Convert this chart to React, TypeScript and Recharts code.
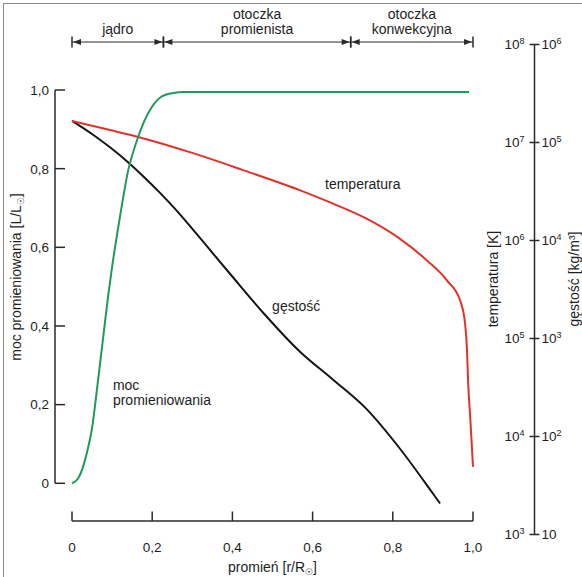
import React from 'react';
import { ComposedChart, Line, XAxis, YAxis, ReferenceLine, ReferenceDot } from 'recharts';

// ---- data ----
const lumR = [0, 0.015, 0.03, 0.04, 0.05, 0.06, 0.07, 0.08, 0.09, 0.1, 0.12, 0.14, 0.16, 0.18, 0.2, 0.22, 0.25, 0.28, 0.35, 0.99];
const lumL = [0, 0.012, 0.05, 0.09, 0.14, 0.22, 0.305, 0.39, 0.475, 0.55, 0.68, 0.795, 0.866, 0.92, 0.958, 0.981, 0.992, 0.995, 0.995, 0.995];

const tempR = [0, 0.095, 0.165, 0.3, 0.425, 0.569, 0.651, 0.736, 0.818, 0.885, 0.935, 0.968, 0.98, 0.985, 0.988, 0.993, 1.0];
const tempK = [1.66e7, 1.34e7, 1.14e7, 7.83e6, 5.26e6, 3.25e6, 2.38e6, 1.66e6, 1.04e6, 6.26e5, 3.92e5, 2.44e5, 1.45e5, 7.7e4, 3.5e4, 1.6e4, 4.9e3];

const rhoR = [0, 0.0524, 0.0948, 0.1446, 0.182, 0.2195, 0.2594, 0.3017, 0.394, 0.479, 0.5686, 0.651, 0.736, 0.818, 0.9, 0.918];
const rhoKg = [1.66e5, 1.2e5, 8.93e4, 6.05e4, 4.35e4, 3.06e4, 2.05e4, 1.29e4, 4.58e3, 1.79e3, 733, 380, 188, 75, 26.2, 20.7];

const xTicks = [0, 0.2, 0.4, 0.6, 0.8, 1.0];
const lumTicks = [0, 0.2, 0.4, 0.6, 0.8, 1.0];
const tempTicks = [1e3, 1e4, 1e5, 1e6, 1e7, 1e8];
const rhoTicks = [10, 1e2, 1e3, 1e4, 1e5, 1e6];

const zoneEdges = [0, 0.228, 0.695, 1.0];
const zoneLabels = [['jądro'], ['otoczka', 'promienista'], ['otoczka', 'konwekcyjna']];

// ---- layout / style ----
const W = 582;
const H = 577;
const FONT = '"Liberation Sans", Arial, Helvetica, sans-serif';
const AXIS = '#2a2a2a';
const TXT = '#1e1e1e';
const GREEN = '#1e9a5a';
const RED = '#e2322b';
const BLACK = '#151515';
const TICK_FS = 13.5;
const LBL_FS = 14;

const X_DOMAIN: [number, number] = [-0.0424, 1.1509];
const L_DOMAIN: [number, number] = [-0.1302, 1.1157];
const XLINE_L = -0.0959; // level of the bottom radius axis (in left-axis units)
const ZONE_L = 1.122; // level of the zone arrows

const lumData = lumR.map((r, i) => ({ r, L: lumL[i] }));
const tempData = tempR.map((r, i) => ({ r, T: tempK[i] }));
const rhoData = rhoR.map((r, i) => ({ r, rho: rhoKg[i] }));

const fmtDec = (v: number) => (v === 0 ? '0' : v.toFixed(1).replace('.', ','));
const expOf = (v: number) => Math.round(Math.log10(v));

const txt = { fontFamily: FONT, fill: TXT };

const LeftTick = (p: any) => (
  <g>
    <line x1={p.x} y1={p.y} x2={p.x + 10} y2={p.y} stroke={AXIS} strokeWidth={1.5} />
    <text x={p.x - 6} y={p.y} dy="0.36em" textAnchor="end" fontSize={TICK_FS} {...txt}>
      {fmtDec(p.payload.value)}
    </text>
  </g>
);

const XTick = (p: any) => (
  <g>
    <line x1={p.x} y1={p.y - 13.5} x2={p.x} y2={p.y - 23} stroke={AXIS} strokeWidth={1.5} />
    <text x={p.x} y={p.y + 12.5} dy="0.36em" textAnchor="middle" fontSize={TICK_FS} {...txt}>
      {fmtDec(p.payload.value)}
    </text>
  </g>
);

const TempTick = (p: any) => (
  <g>
    <line x1={p.x - 5} y1={p.y} x2={p.x + 5} y2={p.y} stroke={AXIS} strokeWidth={1.5} />
    <text x={p.x - 10} y={p.y} dy="0.36em" textAnchor="end" fontSize={TICK_FS} {...txt}>
      10<tspan dy={-5} fontSize={9}>{expOf(p.payload.value)}</tspan>
    </text>
  </g>
);

const RhoTick = (p: any) => {
  const e = expOf(p.payload.value);
  return (
    <text x={p.x + 8} y={p.y} dy="0.36em" textAnchor="start" fontSize={TICK_FS} {...txt}>
      10{e > 1 ? <tspan dy={-5} fontSize={9}>{e}</tspan> : null}
    </text>
  );
};

const zoneShape = (labels: string[]) => (p: any) => {
  const { x1, x2, y1 } = p;
  const y = y1;
  const a = 8;
  const h = 3;
  const cx = (x1 + x2) / 2;
  return (
    <g>
      <line x1={x1} y1={y} x2={x2} y2={y} stroke={AXIS} strokeWidth={1} />
      <line x1={x1} y1={y - 5.5} x2={x1} y2={y + 5.5} stroke={AXIS} strokeWidth={1.5} />
      <line x1={x2} y1={y - 5.5} x2={x2} y2={y + 5.5} stroke={AXIS} strokeWidth={1.5} />
      <polygon points={`${x1 + 1},${y} ${x1 + 1 + a},${y - h} ${x1 + 1 + a},${y + h}`} fill={AXIS} />
      <polygon points={`${x2 - 1},${y} ${x2 - 1 - a},${y - h} ${x2 - 1 - a},${y + h}`} fill={AXIS} />
      {labels.map((t, i) => (
        <text key={t} x={cx} y={y - 8 - (labels.length - 1 - i) * 15} textAnchor="middle" fontSize={LBL_FS} {...txt}>
          {t}
        </text>
      ))}
    </g>
  );
};

type FreeText = { r: number; L: number; lines: React.ReactNode[]; anchor: 'start' | 'middle'; rotate?: boolean };

const freeTexts: FreeText[] = [
  { r: -0.1397, L: 0.5245, anchor: 'middle', rotate: true, lines: [<>moc promieniowania [L/L<tspan dy={3} fontSize={9}>☉</tspan><tspan dy={-3}>]</tspan></>] },
  { r: 0.5, L: -0.2128, anchor: 'middle', lines: [<>promień [r/R<tspan dy={3} fontSize={9}>☉</tspan><tspan dy={-3}>]</tspan></>] },
  { r: 1.0499, L: 0.5194, anchor: 'middle', rotate: true, lines: ['temperatura [K]'] },
  { r: 1.2519, L: 0.5194, anchor: 'middle', rotate: true, lines: ['gęstość [kg/m³]'] },
];

const curveTexts = [
  { r: 0.631, L: 0.748, text: 'temperatura' },
  { r: 0.499, L: 0.438, text: 'gęstość' },
  { r: 0.102, L: 0.237, text: 'moc' },
  { r: 0.102, L: 0.199, text: 'promieniowania' },
];

const freeShape = (f: FreeText) => (p: any) => (
  <text
    x={p.cx}
    y={p.cy}
    dy="0.36em"
    textAnchor={f.anchor}
    fontSize={LBL_FS}
    transform={f.rotate ? `rotate(-90, ${p.cx}, ${p.cy})` : undefined}
    {...txt}
  >
    {f.lines[0]}
  </text>
);

const curveShape = (t: string) => (p: any) => (
  <text x={p.cx} y={p.cy} textAnchor="start" fontSize={LBL_FS} {...txt}>
    {t}
  </text>
);

export default function App() {
  return (
    <div style={{ position: 'relative', width: W, height: H, background: '#fff' }}>
      <style>{`body{margin:0;background:#fff}`}</style>
      <ComposedChart width={W} height={H} margin={{ top: 44.5, right: 46.5, bottom: 12.5, left: 15 }}>
        <XAxis
          dataKey="r"
          type="number"
          domain={X_DOMAIN}
          allowDataOverflow
          ticks={xTicks}
          axisLine={false}
          tickLine={false}
          tickSize={0}
          tickMargin={0}
          height={30}
          tick={XTick}
          interval={0}
        />
        <YAxis
          yAxisId="left"
          type="number"
          domain={L_DOMAIN}
          allowDataOverflow
          ticks={lumTicks}
          axisLine={false}
          tickLine={false}
          tickSize={0}
          tickMargin={0}
          width={40}
          tick={LeftTick}
          interval={0}
        />
        <YAxis
          yAxisId="temp"
          orientation="right"
          type="number"
          scale="log"
          domain={[1e3, 1e8]}
          allowDataOverflow
          ticks={tempTicks}
          axisLine={{ stroke: AXIS, strokeWidth: 1.5 }}
          tickLine={false}
          tickSize={0}
          tickMargin={0}
          width={1}
          tick={TempTick}
          interval={0}
        />
        <YAxis
          yAxisId="rho"
          orientation="right"
          type="number"
          scale="log"
          domain={[10, 1e6]}
          allowDataOverflow
          ticks={rhoTicks}
          axisLine={false}
          tickLine={false}
          tickSize={0}
          tickMargin={0}
          width={1}
          tick={RhoTick}
          interval={0}
        />

        {/* partial axis lines */}
        <ReferenceLine
          yAxisId="left"
          ifOverflow="visible"
          segment={[{ x: X_DOMAIN[0], y: 0 }, { x: X_DOMAIN[0], y: 1 }]}
          stroke={AXIS}
          strokeWidth={1.5}
        />
        <ReferenceLine
          yAxisId="left"
          ifOverflow="visible"
          segment={[{ x: 0, y: XLINE_L }, { x: 1, y: XLINE_L }]}
          stroke={AXIS}
          strokeWidth={1.5}
        />

        {/* zones */}
        {zoneLabels.map((lab, i) => (
          <ReferenceLine
            key={'z' + i}
            yAxisId="left"
            ifOverflow="visible"
            segment={[{ x: zoneEdges[i], y: ZONE_L }, { x: zoneEdges[i + 1], y: ZONE_L }]}
            shape={zoneShape(lab)}
          />
        ))}

        <Line data={rhoData} yAxisId="rho" dataKey="rho" type="monotone" stroke={BLACK} strokeWidth={2} dot={false} isAnimationActive={false} />
        <Line data={tempData} yAxisId="temp" dataKey="T" type="monotone" stroke={RED} strokeWidth={2} dot={false} isAnimationActive={false} />
        <Line data={lumData} yAxisId="left" dataKey="L" type="monotone" stroke={GREEN} strokeWidth={2} dot={false} isAnimationActive={false} />

        {freeTexts.map((f, i) => (
          <ReferenceDot key={'f' + i} yAxisId="left" x={f.r} y={f.L} r={0} ifOverflow="visible" shape={freeShape(f)} />
        ))}
        {curveTexts.map((c, i) => (
          <ReferenceDot key={'c' + i} yAxisId="left" x={c.r} y={c.L} r={0} ifOverflow="visible" shape={curveShape(c.text)} />
        ))}
      </ComposedChart>
      <div
        style={{
          position: 'absolute',
          left: 3,
          top: 3,
          width: W - 3,
          height: H - 3,
          borderTop: '1.5px solid #8c8c8c',
          borderLeft: '1.5px solid #8c8c8c',
          boxSizing: 'border-box',
          pointerEvents: 'none',
        }}
      />
    </div>
  );
}
